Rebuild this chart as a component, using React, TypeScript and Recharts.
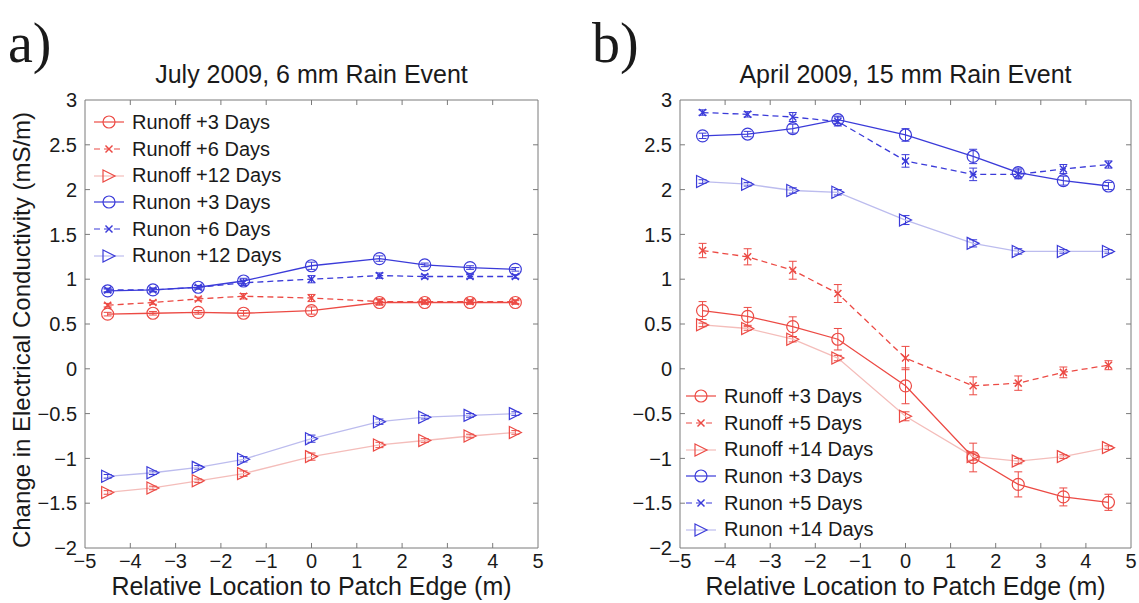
import React from 'react';
import { LineChart, Line, XAxis, YAxis, ErrorBar, ReferenceArea, ReferenceLine } from 'recharts';

// distance from patch edge, same for both events
const xPositions = [-4.5, -3.5, -2.5, -1.5, 0, 1.5, 2.5, 3.5, 4.5];

// July 2009, 6 mm event
const julyRunoff3 = [0.61, 0.62, 0.63, 0.62, 0.65, 0.74, 0.74, 0.74, 0.74];
const julyRunoff6 = [0.71, 0.74, 0.78, 0.81, 0.79, 0.75, 0.75, 0.75, 0.75];
const julyRunoff12 = [-1.38, -1.33, -1.25, -1.17, -0.98, -0.85, -0.8, -0.75, -0.71];
const julyRunon3 = [0.87, 0.88, 0.91, 0.98, 1.15, 1.23, 1.16, 1.13, 1.11];
const julyRunon6 = [0.88, 0.88, 0.91, 0.96, 1.0, 1.04, 1.03, 1.03, 1.03];
const julyRunon12 = [-1.2, -1.16, -1.1, -1.01, -0.78, -0.59, -0.54, -0.52, -0.5];
const julySmallErr = [0.02, 0.02, 0.02, 0.03, 0.04, 0.03, 0.02, 0.02, 0.02];

// April 2009, 15 mm event
const aprilRunoff3 = [0.65, 0.585, 0.47, 0.33, -0.19, -0.99, -1.29, -1.43, -1.49];
const aprilRunoff3Err = [0.1, 0.1, 0.11, 0.12, 0.2, 0.16, 0.14, 0.1, 0.09];
const aprilRunoff5 = [1.32, 1.25, 1.1, 0.84, 0.12, -0.19, -0.16, -0.04, 0.04];
const aprilRunoff5Err = [0.08, 0.09, 0.1, 0.1, 0.13, 0.1, 0.08, 0.06, 0.05];
const aprilRunoff14 = [0.49, 0.45, 0.33, 0.12, -0.53, -0.98, -1.03, -0.98, -0.88];
const aprilRunon3 = [2.6, 2.62, 2.68, 2.78, 2.61, 2.37, 2.19, 2.1, 2.04];
const aprilRunon3Err = [0.03, 0.03, 0.05, 0.04, 0.07, 0.08, 0.05, 0.05, 0.04];
const aprilRunon5 = [2.86, 2.84, 2.81, 2.76, 2.32, 2.17, 2.17, 2.23, 2.28];
const aprilRunon5Err = [0.03, 0.03, 0.05, 0.05, 0.07, 0.07, 0.05, 0.05, 0.04];
const aprilRunon14 = [2.09, 2.06, 1.99, 1.97, 1.66, 1.4, 1.31, 1.31, 1.31];
const aprilTriErr = [0.02, 0.02, 0.03, 0.03, 0.05, 0.04, 0.03, 0.02, 0.02];

const xTicks = [-5, -4, -3, -2, -1, 0, 1, 2, 3, 4, 5];
const yTicks = [-2, -1.5, -1, -0.5, 0, 0.5, 1, 1.5, 2, 2.5, 3];
const X_MIN = -5;
const X_MAX = 5;
const Y_MIN = -2;
const Y_MAX = 3;

// inward tick mark length, in axis units (about 5px)
const TICK_DY = 0.056;
const TICK_DX = 0.11;

const RED = '#ec4a44';
const BLUE = '#3b3bd9';
const RED_FAINT = '#f4bdba';
const BLUE_FAINT = '#bcbcee';
const AXIS = '#7a7a7a';

const sans = '"Liberation Sans", Arial, sans-serif';
const serif = '"Liberation Serif", "Times New Roman", serif';

type Marker = 'circle' | 'cross' | 'triangle';

interface Series {
  name: string;
  values: number[];
  errors?: number[];
  color: string;
  lineColor: string;
  dash?: string;
  marker: Marker;
}

const toRows = (values: number[], errors?: number[]) =>
  xPositions.map((x, i) => ({ x, y: values[i], err: errors ? errors[i] : 0 }));

const drawMarker = (marker: Marker, cx: number, cy: number, color: string, key?: string | number) => {
  if (marker === 'circle') {
    return <circle key={key} cx={cx} cy={cy} r={6} fill="none" stroke={color} strokeWidth={1.2} />;
  }
  if (marker === 'cross') {
    const s = 3.5;
    return (
      <g key={key} stroke={color} strokeWidth={1.5}>
        <line x1={cx - s} y1={cy - s} x2={cx + s} y2={cy + s} />
        <line x1={cx - s} y1={cy + s} x2={cx + s} y2={cy - s} />
      </g>
    );
  }
  const s = 6;
  return (
    <polygon
      key={key}
      points={`${cx - s},${cy - s} ${cx + s},${cy} ${cx - s},${cy + s}`}
      fill="none"
      stroke={color}
      strokeWidth={1.2}
    />
  );
};

const fmt = (v: number) => (v < 0 ? `\u2212${Math.abs(v)}` : `${v}`);

const LegendBox = ({ series, style }: { series: Series[]; style: React.CSSProperties }) => (
  <div style={{ position: 'absolute', fontFamily: sans, fontSize: 20, color: '#1a1a1a', ...style }}>
    {series.map((s) => (
      <div key={s.name} style={{ display: 'flex', alignItems: 'center', height: 26.7 }}>
        <svg width={34} height={20} style={{ marginRight: 6 }}>
          <line x1={2} y1={10} x2={32} y2={10} stroke={s.lineColor} strokeWidth={1.2} strokeDasharray={s.dash} />
          {drawMarker(s.marker, 17, 10, s.color)}
        </svg>
        <span>{s.name}</span>
      </div>
    ))}
  </div>
);

const tickStyle = { fill: '#1a1a1a', fontSize: 20, fontFamily: sans };

// MATLAB-style inward tick marks on all four sides of the box
const innerTicks = () => {
  const out: React.ReactNode[] = [];
  xTicks
    .filter((t) => t > X_MIN && t < X_MAX)
    .forEach((t) => {
      out.push(
        <ReferenceLine key={`xb${t}`} segment={[{ x: t, y: Y_MIN }, { x: t, y: Y_MIN + TICK_DY }]} stroke={AXIS} />,
        <ReferenceLine key={`xt${t}`} segment={[{ x: t, y: Y_MAX }, { x: t, y: Y_MAX - TICK_DY }]} stroke={AXIS} />
      );
    });
  yTicks
    .filter((t) => t > Y_MIN && t < Y_MAX)
    .forEach((t) => {
      out.push(
        <ReferenceLine key={`yl${t}`} segment={[{ x: X_MIN, y: t }, { x: X_MIN + TICK_DX, y: t }]} stroke={AXIS} />,
        <ReferenceLine key={`yr${t}`} segment={[{ x: X_MAX, y: t }, { x: X_MAX - TICK_DX, y: t }]} stroke={AXIS} />
      );
    });
  return out;
};

const Panel = ({
  series,
  width,
  marginLeft,
  marginRight,
}: {
  series: Series[];
  width: number;
  marginLeft: number;
  marginRight: number;
}) => (
  <LineChart width={width} height={603} margin={{ top: 100, right: marginRight, left: marginLeft, bottom: 26 }}>
    <XAxis
      dataKey="x"
      type="number"
      domain={[X_MIN, X_MAX]}
      ticks={xTicks}
      tickFormatter={fmt}
      allowDuplicatedCategory={false}
      axisLine={false}
      tickLine={false}
      tickSize={0}
      tickMargin={6}
      height={29}
      tick={tickStyle}
    />
    <YAxis
      type="number"
      domain={[Y_MIN, Y_MAX]}
      ticks={yTicks}
      tickFormatter={fmt}
      axisLine={false}
      tickLine={false}
      tickSize={0}
      tickMargin={8}
      width={45}
      tick={tickStyle}
    />
    <ReferenceArea x1={X_MIN} x2={X_MAX} y1={Y_MIN} y2={Y_MAX} fill="none" stroke={AXIS} strokeWidth={1} ifOverflow="visible" />
    {innerTicks()}
    {series.map((s) => (
      <Line
        key={s.name}
        data={toRows(s.values, s.errors)}
        dataKey="y"
        name={s.name}
        stroke={s.lineColor}
        strokeWidth={1.3}
        strokeDasharray={s.dash}
        isAnimationActive={false}
        dot={(p: any) => drawMarker(s.marker, p.cx, p.cy, s.color, `${s.name}-${p.index}`)}
        activeDot={false}
      >
        {s.errors && (
          <ErrorBar dataKey="err" direction="y" width={4} stroke={s.color} strokeWidth={1} isAnimationActive={false} />
        )}
      </Line>
    ))}
  </LineChart>
);

const julySeries: Series[] = [
  { name: 'Runoff +3 Days', values: julyRunoff3, errors: julySmallErr, color: RED, lineColor: RED, marker: 'circle' },
  { name: 'Runoff +6 Days', values: julyRunoff6, errors: julySmallErr, color: RED, lineColor: RED, dash: '6 4', marker: 'cross' },
  { name: 'Runoff +12 Days', values: julyRunoff12, errors: julySmallErr, color: RED, lineColor: RED_FAINT, marker: 'triangle' },
  { name: 'Runon +3 Days', values: julyRunon3, errors: julySmallErr, color: BLUE, lineColor: BLUE, marker: 'circle' },
  { name: 'Runon +6 Days', values: julyRunon6, errors: julySmallErr, color: BLUE, lineColor: BLUE, dash: '6 4', marker: 'cross' },
  { name: 'Runon +12 Days', values: julyRunon12, errors: julySmallErr, color: BLUE, lineColor: BLUE_FAINT, marker: 'triangle' },
];

const aprilSeries: Series[] = [
  { name: 'Runoff +3 Days', values: aprilRunoff3, errors: aprilRunoff3Err, color: RED, lineColor: RED, marker: 'circle' },
  { name: 'Runoff +5 Days', values: aprilRunoff5, errors: aprilRunoff5Err, color: RED, lineColor: RED, dash: '6 4', marker: 'cross' },
  { name: 'Runoff +14 Days', values: aprilRunoff14, errors: aprilTriErr, color: RED, lineColor: RED_FAINT, marker: 'triangle' },
  { name: 'Runon +3 Days', values: aprilRunon3, errors: aprilRunon3Err, color: BLUE, lineColor: BLUE, marker: 'circle' },
  { name: 'Runon +5 Days', values: aprilRunon5, errors: aprilRunon5Err, color: BLUE, lineColor: BLUE, dash: '6 4', marker: 'cross' },
  { name: 'Runon +14 Days', values: aprilRunon14, errors: aprilTriErr, color: BLUE, lineColor: BLUE_FAINT, marker: 'triangle' },
];

const text = (style: React.CSSProperties): React.CSSProperties => ({
  position: 'absolute',
  fontFamily: sans,
  color: '#1a1a1a',
  whiteSpace: 'nowrap',
  ...style,
});

export default function App() {
  return (
    <div style={{ position: 'absolute', left: 0, top: 0, width: 1139, height: 603, background: '#fff', overflow: 'hidden' }}>
      <div style={{ position: 'absolute', left: 0, top: 0 }}>
        <Panel series={julySeries} width={560} marginLeft={40} marginRight={22} />
      </div>
      <div style={{ position: 'absolute', left: 580, top: 0 }}>
        <Panel series={aprilSeries} width={559} marginLeft={55} marginRight={8} />
      </div>

      <LegendBox series={julySeries} style={{ left: 92, top: 109 }} />
      <LegendBox series={aprilSeries} style={{ left: 684, top: 383 }} />

      <div style={text({ left: 8, top: 8, fontSize: 56, fontFamily: serif, lineHeight: '70px' })}>a)</div>
      <div style={text({ left: 592, top: 8, fontSize: 56, fontFamily: serif, lineHeight: '70px' })}>b)</div>

      <div style={text({ left: 85, width: 453, top: 60, fontSize: 25, textAlign: 'center' })}>July 2009, 6 mm Rain Event</div>
      <div style={text({ left: 680, width: 451, top: 60, fontSize: 25, textAlign: 'center' })}>April 2009, 15 mm Rain Event</div>

      <div style={text({ left: 85, width: 453, top: 574, fontSize: 25, lineHeight: '24px', textAlign: 'center' })}>
        Relative Location to Patch Edge (m)
      </div>
      <div style={text({ left: 680, width: 451, top: 574, fontSize: 25, lineHeight: '24px', textAlign: 'center' })}>
        Relative Location to Patch Edge (m)
      </div>

      <div
        style={text({
          left: 22,
          top: 330,
          fontSize: 24,
          transform: 'translate(-50%, -50%) rotate(-90deg)',
        })}
      >
        Change in Electrical Conductivity (mS/m)
      </div>
    </div>
  );
}
